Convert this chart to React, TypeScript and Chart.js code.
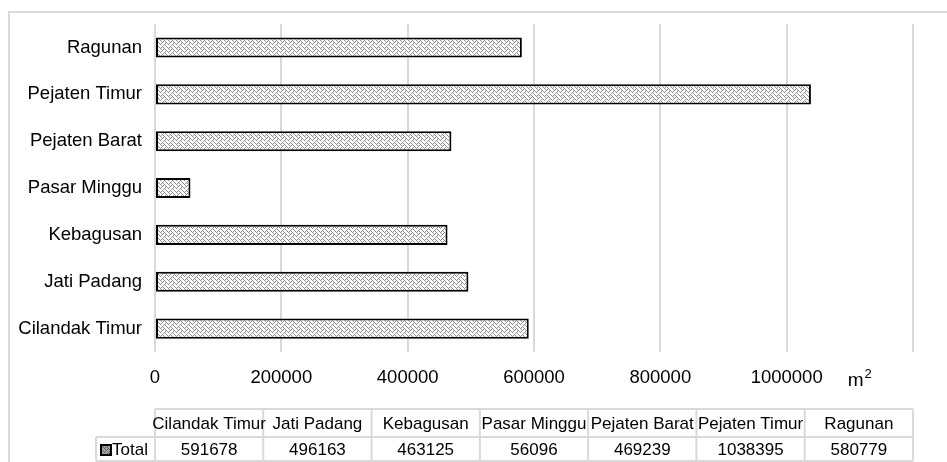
import React, { useEffect, useRef } from "react";
import { Chart, registerables } from "chart.js";

Chart.register(...registerables);

const categories = [
  "Cilandak Timur",
  "Jati Padang",
  "Kebagusan",
  "Pasar Minggu",
  "Pejaten Barat",
  "Pejaten Timur",
  "Ragunan",
];
const totals = [591678, 496163, 463125, 56096, 469239, 1038395, 580779];
const seriesName = "Total";
const xMax = 1200000;
const xStep = 200000;
const unitLabel = "m";
const unitSup = "2";

const FONT = "'Liberation Sans', Arial, sans-serif";

function makePattern(): CanvasPattern | string {
  const c = document.createElement("canvas");
  c.width = 8;
  c.height = 8;
  const ctx = c.getContext("2d");
  if (!ctx) return "#ccc";
  ctx.fillStyle = "#ffffff";
  ctx.fillRect(0, 0, 8, 8);
  const rows = [0x88, 0x54, 0x22, 0x45, 0x88, 0x14, 0x22, 0x51];
  ctx.fillStyle = "#8a8a8a";
  rows.forEach((r, y) => {
    for (let x = 0; x < 8; x++) {
      if (r & (0x80 >> x)) ctx.fillRect(x, y, 1, 1);
    }
  });
  const p = ctx.createPattern(c, "repeat");
  return p || "#ccc";
}

export default function App() {
  const ref = useRef<HTMLCanvasElement>(null);

  useEffect(() => {
    if (!ref.current) return;
    const pattern = makePattern();

    const extras = {
      id: "extras",
      beforeDraw(chart: any) {
        const ctx = chart.ctx;
        ctx.save();
        ctx.fillStyle = "#fff";
        ctx.fillRect(0, 0, chart.width, chart.height);
        ctx.strokeStyle = "#d9d9d9";
        ctx.lineWidth = 2;
        ctx.beginPath();
        ctx.moveTo(8, 12);
        ctx.lineTo(chart.width, 12);
        ctx.moveTo(9, 12);
        ctx.lineTo(9, chart.height);
        ctx.stroke();
        ctx.restore();
      },
      afterDraw(chart: any) {
        const ctx = chart.ctx;
        const xs = chart.scales.x;
        const left = xs.left;
        const right = xs.right;
        const n = categories.length;
        const w = (right - left) / n;
        const top = 409;
        const mid = 437;
        const bot = 461;
        ctx.save();
        // unit label
        ctx.fillStyle = "#000";
        ctx.textBaseline = "alphabetic";
        ctx.textAlign = "left";
        ctx.font = `19px ${FONT}`;
        const ux = xs.getPixelForValue(1000000) + 61;
        ctx.fillText(unitLabel, ux, 386);
        const mw = ctx.measureText(unitLabel).width;
        ctx.font = `13px ${FONT}`;
        ctx.fillText(unitSup, ux + mw + 1, 378);

        // table grid
        ctx.strokeStyle = "#d9d9d9";
        ctx.lineWidth = 2;
        ctx.beginPath();
        ctx.moveTo(left, top);
        ctx.lineTo(right, top);
        ctx.moveTo(96, mid);
        ctx.lineTo(right, mid);
        ctx.moveTo(96, bot);
        ctx.lineTo(right, bot);
        ctx.moveTo(96, mid);
        ctx.lineTo(96, bot);
        for (let i = 0; i <= n; i++) {
          const x = left + i * w;
          ctx.moveTo(x, top);
          ctx.lineTo(x, bot);
        }
        ctx.stroke();

        ctx.fillStyle = "#000";
        ctx.font = `17px ${FONT}`;
        ctx.textAlign = "center";
        ctx.textBaseline = "middle";
        for (let i = 0; i < n; i++) {
          const cx = left + i * w + w / 2;
          ctx.fillText(categories[i], cx, (top + mid) / 2 + 1);
          ctx.fillText(String(totals[i]), cx, (mid + bot) / 2 + 1);
        }
        // legend key
        const ky = (mid + bot) / 2 + 1;
        ctx.fillStyle = pattern as any;
        ctx.fillRect(101, ky - 5, 10, 10);
        ctx.fillStyle = "rgba(0,0,0,0.35)";
        ctx.fillRect(101, ky - 5, 10, 10);
        ctx.strokeStyle = "#000";
        ctx.lineWidth = 2;
        ctx.strokeRect(101, ky - 5, 10, 10);
        ctx.fillStyle = "#000";
        ctx.textAlign = "left";
        ctx.fillText(seriesName, 112, ky);
        ctx.restore();
      },
    };

    const chart = new Chart(ref.current, {
      type: "bar",
      data: {
        labels: categories,
        datasets: [
          {
            label: seriesName,
            data: totals,
            backgroundColor: pattern as any,
            borderColor: "#000",
            borderWidth: 2,
            borderSkipped: false,
            categoryPercentage: 1,
            barPercentage: 0.43,
          },
        ],
      },
      options: {
        indexAxis: "y",
        responsive: false,
        animation: false,
        layout: { padding: { left: 0, top: 16, right: 34, bottom: 70 } },
        plugins: {
          legend: { display: false },
          tooltip: { enabled: false },
        },
        scales: {
          x: {
            min: 0,
            max: xMax,
            border: { display: false },
            grid: { color: "#d9d9d9", lineWidth: 2, drawTicks: false },
            afterFit(scale: any) {
              scale.height = 40;
            },
            ticks: {
              stepSize: xStep,
              padding: 15,
              color: "#000",
              font: { family: FONT, size: 18.5 },
              callback: (v: any) => (Number(v) >= xMax ? "" : String(v)),
            },
          },
          y: {
            reverse: true,
            border: { display: false },
            grid: { display: false, drawTicks: false },
            afterFit(scale: any) {
              scale.width = 155;
            },
            ticks: {
              padding: 13,
              color: "#000",
              font: { family: FONT, size: 18.5 },
            },
          },
        },
      },
      plugins: [extras],
    });
    return () => chart.destroy();
  }, []);

  return (
    <div style={{ position: "fixed", left: 0, top: 0, width: 947, height: 462 }}>
      <canvas ref={ref} width={947} height={462} style={{ display: "block" }} />
    </div>
  );
}
